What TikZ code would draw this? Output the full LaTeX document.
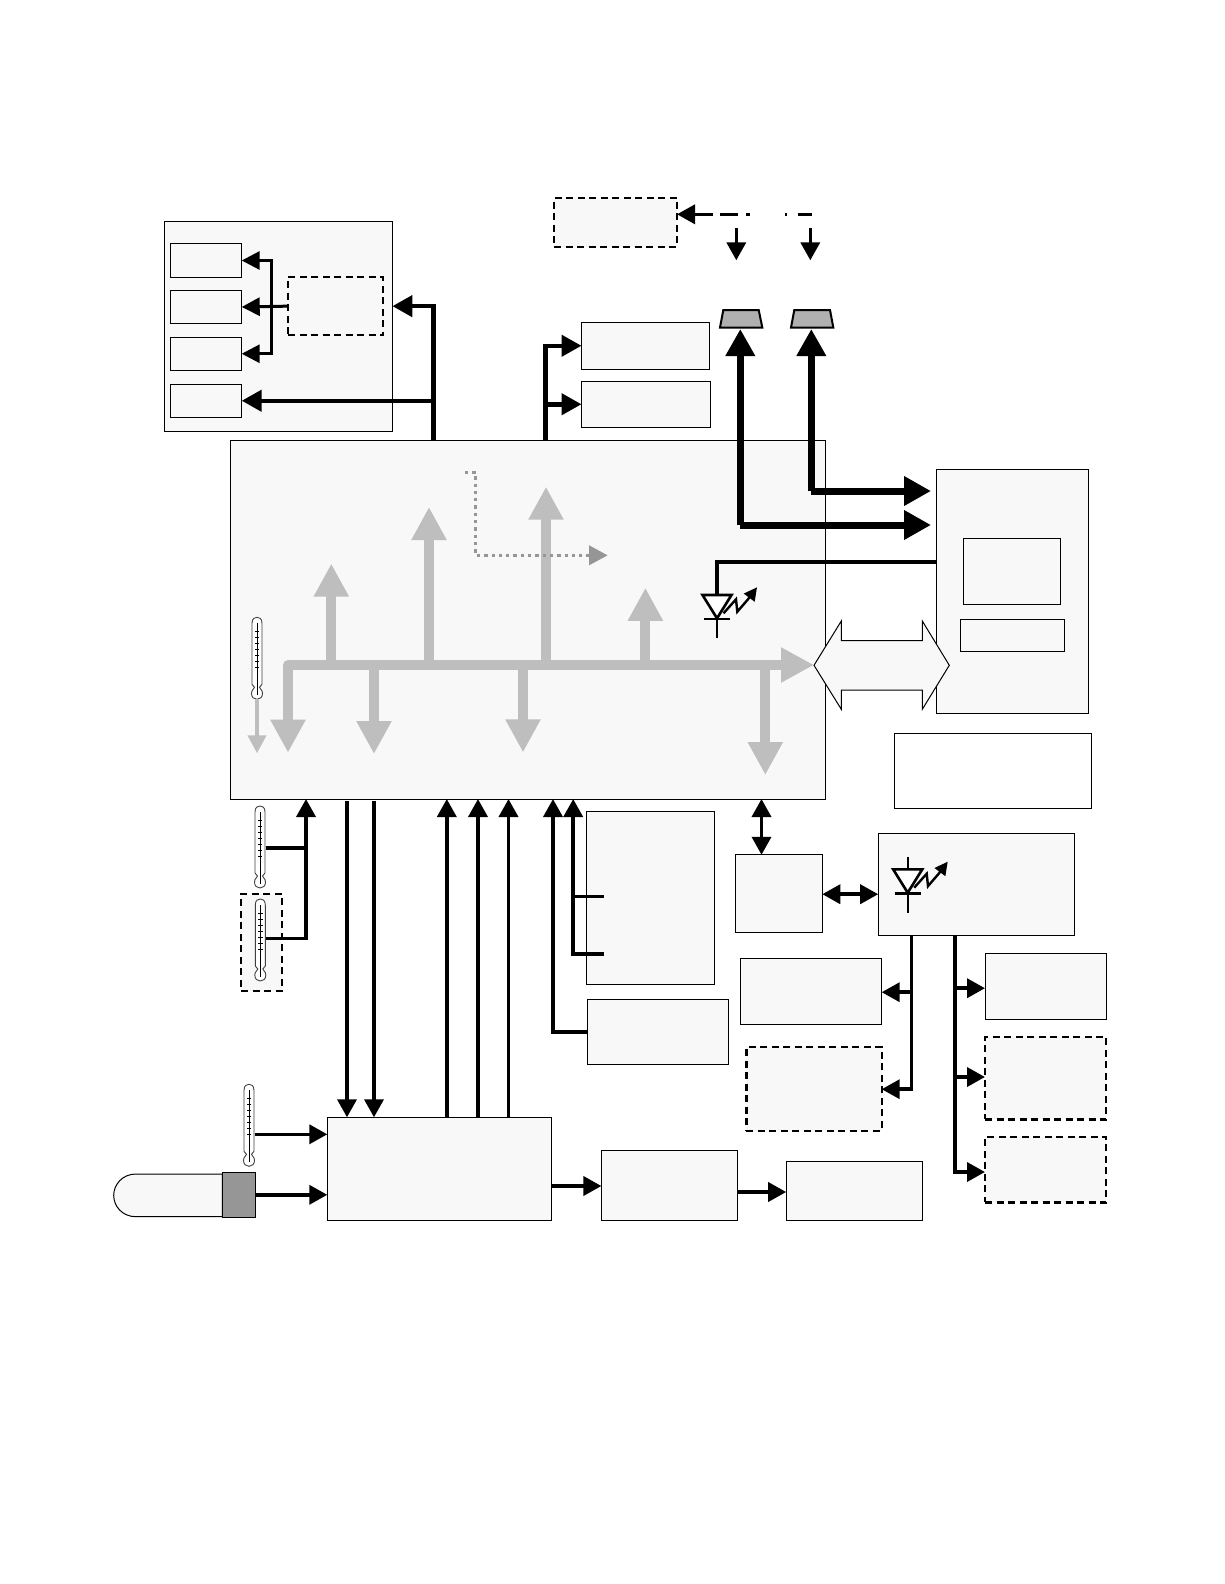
\documentclass[tikz,border=0pt]{standalone}
\usetikzlibrary{arrows.meta}
\definecolor{boxfill}{HTML}{F8F8F8}
\definecolor{busgray}{HTML}{BEBEBE}
\definecolor{dotgray}{HTML}{969696}
\definecolor{capgray}{HTML}{B0B0B0}
\tikzset{
  solidbox/.style={draw=black,line width=1pt,fill=boxfill,inner sep=0pt,outer sep=0pt},
  dashbox/.style={draw=black,line width=2.2pt,fill=boxfill,dash pattern=on 7pt off 4.5pt,inner sep=0pt,outer sep=0pt},
  whitebox/.style={solidbox,fill=white},
  wire/.style={draw=black,line width=3.6pt},
  wirearrow/.style={wire,-{Triangle[length=18pt,width=19pt]}},
  wirebi/.style={wire,{Triangle[length=18pt,width=19pt]}-{Triangle[length=18pt,width=19pt]}},
  heavyarrow/.style={draw=black,line width=4.5pt,-{Triangle[length=20pt,width=21pt]}},
  hugearrow/.style={draw=black,line width=7pt,-{Triangle[length=27pt,width=28pt]}},
  busarrow/.style={draw=busgray,line width=10pt,-{Triangle[length=33pt,width=33pt]}},
  busbi/.style={draw=busgray,line width=10pt,line join=round,{Triangle[length=33pt,width=33pt]}-{Triangle[length=33pt,width=33pt]}},
  therm/.style={draw=black!75,line width=.9pt,fill=white},
}
\newcommand{\bx}[6]{\node[#2,minimum width={(#5-#3)*1pt},minimum height={(#6-#4)*1pt}] (#1) at ({(#3+#5)/2},{(#4+#6)/2}) {};}
\newcommand{\thermo}[3]{%
  \node[inner sep=0pt,outer sep=0pt,minimum width=11pt,minimum height=82pt] (#1) at (#2,#3+41) {};
  \begin{scope}[shift={(#2,#3)}]
    \draw[therm] (-5,6) .. controls (-5,1) and (-2,0) .. (0,0) .. controls (2,0) and (5,1) .. (5,6) -- (5,67)
      .. controls (5,69) and (2.5,68) .. (2.5,70) .. controls (2.5,72) and (5.5,72) .. (5.5,76)
      .. controls (5.5,80) and (3,82) .. (0,82) .. controls (-3,82) and (-5.5,80) .. (-5.5,76)
      .. controls (-5.5,72) and (-2.5,72) .. (-2.5,70) .. controls (-2.5,68) and (-5,69) .. (-5,67) -- cycle;
    \draw[black,line width=1pt] (0,6) -- (0,78);
    \foreach \tk in {14,20,26,32,38,44,50} \draw[black,line width=.8pt] (-2.2,\tk) -- (2.2,\tk);
  \end{scope}}
\newcommand{\ledsym}[4]{% apex x, apex y, stem top offset, bottom offset
  \begin{scope}[shift={(#1,#2)}]
    \draw[black,line width=2.4pt,line join=miter] (#3,0) -- (#3,#4);
    \draw[black,line width=2.6pt,fill=white,line join=miter] (-14.5,-23.3) -- (14.5,-23.3) -- (0,0) -- cycle;
    \draw[black,line width=2.2pt] (-13,.7) -- (13,.7);
    \draw[black,line width=2.4pt,-{Triangle[length=13pt,width=13pt]}] (6.5,-5) -- (19,-19) -- (20.3,-6.6) -- (31,-19) -- (40,-31);
  \end{scope}}
\begin{document}
\begin{tikzpicture}[x=1pt,y=-1pt]
\useasboundingbox (0,0) rectangle (1224,1584);
\fill[white] (0,0) rectangle (1224,1584);

% boxes
\bx{lpanel}{solidbox}{164.7}{221.2}{392.4}{431.2}
\bx{la}{solidbox}{170.3}{243.5}{241.7}{277.5}
\bx{lb}{solidbox}{170.3}{290.5}{241.7}{323.5}
\bx{lc}{solidbox}{170.3}{337}{241.7}{370.5}
\bx{ld}{solidbox}{170.3}{384}{241.7}{417.5}
\bx{ldash}{dashbox}{288}{277}{383.3}{335.3}
\bx{topdash}{dashbox}{554}{197.7}{677}{246.7}
\bx{ta}{solidbox}{581.5}{322}{709.7}{369.5}
\bx{tb}{solidbox}{581.5}{381}{710.3}{427.5}
\bx{main}{solidbox}{230.3}{440.5}{825.5}{799}
\bx{mon}{solidbox}{936.3}{469.3}{1088.3}{713.3}
\bx{moni}{solidbox}{963.9}{538.5}{1060.3}{604.2}
\bx{monj}{solidbox}{960.3}{619}{1064.7}{651.3}
\bx{note}{whitebox}{894.3}{733.3}{1091.7}{808}
\bx{rs}{solidbox}{586.5}{811.6}{714.2}{984.2}
\bx{rt}{solidbox}{587.5}{999.5}{728.3}{1064}
\bx{cm}{solidbox}{735.5}{854.8}{822.3}{932.5}
\bx{ledbox}{solidbox}{878.2}{833.5}{1074.9}{935.5}
\bx{pa}{solidbox}{740.3}{958.9}{881.7}{1024.4}
\bx{pb}{dashbox}{746.4}{1046.9}{881.7}{1130.6}
\bx{qa}{solidbox}{985}{953.9}{1106.2}{1019.4}
\bx{qb}{dashbox}{985}{1036.8}{1106.2}{1119.4}
\bx{qc}{dashbox}{985}{1136.8}{1106.2}{1202.4}
\bx{sens}{solidbox}{327.3}{1117.3}{551.5}{1220.3}
\bx{ba}{solidbox}{601.4}{1150.8}{737.3}{1220.3}
\bx{bb}{solidbox}{786.2}{1161.9}{922.2}{1220.3}
\bx{thbox}{dashbox}{241.2}{894}{282}{991}

% lamp
\draw[solidbox] (222.3,1174) -- (136,1174) .. controls (122,1174) and (113.7,1185) .. (113.7,1195.3) .. controls (113.7,1206) and (122,1216.7) .. (136,1216.7) -- (222.3,1216.7) -- cycle;
\bx{lamp}{draw=black,line width=1.5pt,fill=dotgray,inner sep=0pt,outer sep=0pt}{222.3}{1172.3}{255.3}{1217.3}

% gray internal bus
\coordinate (busL) at (288,665);
\coordinate (busR) at (814,665);
\coordinate (dnA) at (288,752.7);
\draw[busbi] (dnA) -- (busL) -- (busR);
\foreach \nm/\gx/\gy in {a/374/754,b/523/752.4,c/765.3/775} {
  \coordinate (dn\nm) at (\gx,\gy);
  \draw[busarrow] (dn\nm |- busL) -- (dn\nm);
}
\foreach \nm/\gx/\gy in {a/331.3/563.6,b/429/507,c/546/486.7,d/645.4/587.8} {
  \coordinate (up\nm) at (\gx,\gy);
  \draw[busarrow] (up\nm |- busL) -- (up\nm);
}
% dotted path
\coordinate (dA) at (465,472.3);
\coordinate (dB) at (475.7,472.3);
\coordinate (dC) at (475.7,555.3);
\coordinate (dD) at (607.7,555.3);
\draw[draw=dotgray,line width=3.3pt,dash pattern=on 3.3pt off 4pt,-{Triangle[length=18.5pt,width=19pt,fill=dotgray]}] (dA) -- (dB) -- (dC) -- (dD);

% thermometers
\thermo{tha}{257}{617.3}
\thermo{thb}{260}{806}
\thermo{thc}{260.3}{899}
\thermo{thd}{249}{1084.3}
\coordinate (thtip) at (257,753.3);
\draw[draw=busgray,line width=4pt,-{Triangle[length=18pt,width=18pt]}] (tha.south) -- (thtip);

% LEDs
\coordinate (ledtop) at (717,595);
\coordinate (ledy) at (0,562);
\draw[draw=black,line width=3.6pt] (mon.west |- ledy) -| (ledtop);
\ledsym{717}{618.3}{0}{19.4}
\ledsym{907.7}{892.7}{0}{20}
\coordinate (ledtopb) at (907.7,856.7);
\draw[black,line width=2.4pt] (ledtopb) -- (907.7,870);

% left panel connections
\coordinate (jL) at (433.7,0);
\coordinate (jB) at (271.3,0);
\draw[heavyarrow] (jL |- main.north) |- (ldash.east -| lpanel.east);
\draw[heavyarrow] (jL |- ld.east) -- (ld.east);
\draw[draw=black,line width=3pt,-{Triangle[length=18pt,width=18pt]}] (ldash.west) -- (lb.east);
\draw[draw=black,line width=3pt,-{Triangle[length=18pt,width=18pt]}] (jB |- lb.east) |- (la.east);
\draw[draw=black,line width=3pt,-{Triangle[length=18pt,width=18pt]}] (jB |- lb.east) |- (lc.east);

% top boxes
\coordinate (jT) at (545.3,0);
\draw[heavyarrow] (jT |- main.north) |- (ta.west);
\draw[heavyarrow] (jT |- tb.west) -- (tb.west);

% dashed top signals
\coordinate (sgA) at (712.7,214.3);
\draw[wirearrow] (sgA) -- (topdash.east |- sgA);
\draw[line width=3.6pt] (720,214.3) -- (738.3,214.3) (746,214.3) -- (750,214.3) (785,214.3) -- (787,214.3) (797.7,214.3) -- (812.3,214.3);
\coordinate (fa) at (736.3,228.3);
\coordinate (fb) at (736.3,260.3);
\coordinate (fc) at (810.3,228.3);
\coordinate (fd) at (810.3,260.3);
\draw[wirearrow] (fa) -- (fb);
\draw[wirearrow] (fc) -- (fd);

% trapezoids
\draw[draw=black,line width=2pt,fill=capgray] (720,327.5) -- (723.3,310) -- (758.7,310) -- (762.3,327.5) -- cycle;
\draw[draw=black,line width=2pt,fill=capgray] (791,327.5) -- (794.3,310) -- (830,310) -- (833.3,327.5) -- cycle;
\coordinate (capA) at (740.3,329);
\coordinate (capB) at (811.3,329);
\coordinate (hA) at (931,525);
\coordinate (hB) at (931,491);

% double arrow
\draw[solidbox] (814,665.3) -- (841.3,621) -- (841.3,640.7) -- (922.3,640.7) -- (922.3,621) -- (949.3,665.3) -- (922.3,709.3) -- (922.3,690) -- (841.3,690) -- (841.3,709.3) -- cycle;

% huge arrows
\draw[hugearrow] (capA |- hA) -- (capA);
\draw[hugearrow] (capA |- hA) -- (hA);
\draw[hugearrow] (capB |- hB) -- (capB);
\draw[hugearrow] (capB |- hB) -- (hB);

% thermometer connections below main
\coordinate (jU) at (306,0);
\coordinate (yth) at (0,848);
\coordinate (ythb) at (0,938.3);
\draw[wirearrow] (thc.east |- ythb) -| (jU |- main.south);
\draw[wire] (thb.east |- yth) -- (jU |- yth);

% sensor block verticals
\coordinate (va) at (347,801);
\coordinate (vb) at (374,801);
\draw[wirearrow] (va) -- (va |- sens.north);
\draw[wirearrow] (vb) -- (vb |- sens.north);
\coordinate (vc) at (446.8,0);
\coordinate (vd) at (478,0);
\coordinate (ve) at (508.5,0);
\draw[wirearrow] (vc |- sens.north) -- (vc |- main.south);
\draw[wirearrow] (vd |- sens.north) -- (vd |- main.south);
\draw[wirearrow] (ve |- sens.north) -- (ve |- main.south);

% side boxes to main
\coordinate (vf) at (553,0);
\coordinate (vg) at (573.2,0);
\coordinate (wa) at (603.5,896.5);
\coordinate (wb) at (603.5,953.9);
\draw[wirearrow] (rt.west) -| (vf |- main.south);
\draw[wirearrow] (wb) -| (vg |- main.south);
\draw[wire] (wa) -- (vg |- wa);

% sensor inputs
\coordinate (yta) at (0,1134.3);
\draw[wirearrow] (thd.east |- yta) -- (sens.west |- yta);
\draw[wirearrow] (lamp.east) -- (sens.west |- lamp.east);

% bottom row
\coordinate (yba) at (0,1186);
\coordinate (ybb) at (0,1192);
\draw[wirearrow] (sens.east |- yba) -- (ba.west |- yba);
\draw[wirearrow] (ba.east |- ybb) -- (bb.west |- ybb);

% right lower
\coordinate (dbltop) at (761.5,0);
\draw[wirebi] (dbltop |- main.south) -- (dbltop |- cm.north);
\coordinate (ycm) at (0,894.2);
\draw[wirebi] (cm.east |- ycm) -- (ledbox.west |- ycm);
\coordinate (vp) at (911.3,0);
\coordinate (vq) at (954.8,0);
\coordinate (ypa) at (0,992.2);
\coordinate (ypb) at (0,1089.2);
\coordinate (yqa) at (0,988.2);
\coordinate (yqb) at (0,1077);
\coordinate (yqc) at (0,1172);
\draw[wirearrow] (vp |- ledbox.south) |- (pb.east |- ypb);
\draw[wirearrow] (vp |- ypa) -- (pa.east |- ypa);
\draw[wirearrow] (vq |- ledbox.south) |- (qc.west |- yqc);
\draw[wirearrow] (vq |- yqa) -- (qa.west |- yqa);
\draw[wirearrow] (vq |- yqb) -- (qb.west |- yqb);
\end{tikzpicture}
\end{document}
